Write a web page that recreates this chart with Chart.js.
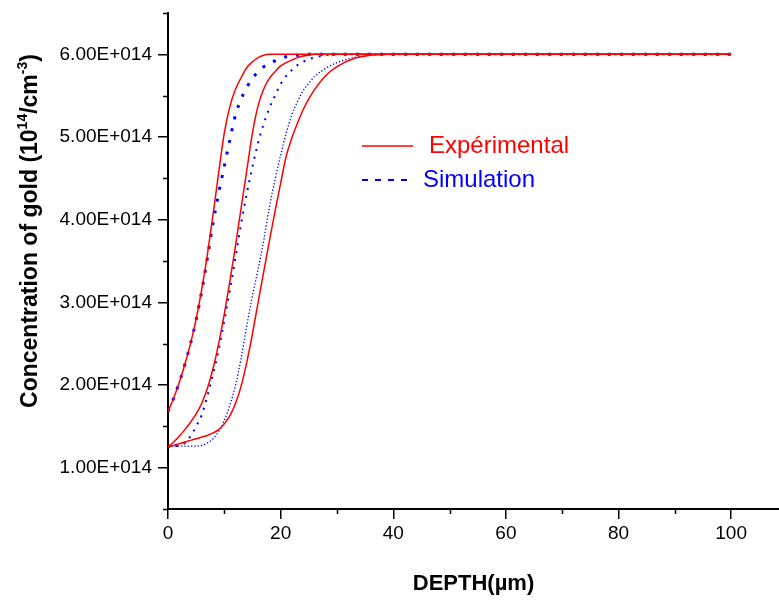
<!DOCTYPE html>
<html>
<head>
<meta charset="utf-8">
<script src="https://cdn.jsdelivr.net/npm/chart.js@4.4.0/dist/chart.umd.min.js"></script>
<style>
  html, body { margin: 0; padding: 0; background: #fff; }
  #wrap { width: 779px; height: 601px; }
</style>
</head>
<body>
<div id="wrap"><canvas id="goldChart" width="779" height="601"></canvas></div>
<script>
// depth in µm, concentration in units of 1E+014 cm^-3
const depth = [0, 1, 2, 3, 4, 5, 6, 7, 8, 9, 10, 11, 12, 13, 14, 15, 16, 17, 18, 19,
  20, 21, 22, 23, 24, 25, 26, 28, 30, 33, 36, 40, 100];

const exp1 = [1.68, 1.84, 2.03, 2.25, 2.50, 2.80, 3.16, 3.58, 4.06, 4.57, 5.05, 5.37, 5.58, 5.72, 5.84, 5.91, 5.96, 5.99, 6.00, 6.00,
  6.00, 6.00, 6.00, 6.00, 6.00, 6.00, 6.00, 6.00, 6.00, 6.00, 6.00, 6.00, 6.00];
const exp2 = [1.25, 1.31, 1.38, 1.46, 1.55, 1.65, 1.78, 1.96, 2.20, 2.50, 2.86, 3.26, 3.69, 4.15, 4.60, 5.05, 5.38, 5.58, 5.71, 5.79,
  5.86, 5.90, 5.93, 5.96, 5.98, 5.99, 6.00, 6.00, 6.00, 6.00, 6.00, 6.00, 6.00];
const exp3 = [1.25, 1.27, 1.29, 1.31, 1.33, 1.35, 1.37, 1.39, 1.42, 1.46, 1.53, 1.63, 1.78, 1.99, 2.28, 2.62, 3.00, 3.37, 3.74, 4.10,
  4.44, 4.77, 4.99, 5.17, 5.33, 5.46, 5.57, 5.74, 5.85, 5.95, 5.99, 6.00, 6.00];

const sim1 = [1.68, 1.84, 2.03, 2.25, 2.50, 2.79, 3.14, 3.54, 3.96, 4.32, 4.65, 4.97, 5.27, 5.46, 5.60, 5.71, 5.79, 5.85, 5.89, 5.92,
  5.95, 5.97, 5.98, 5.99, 5.99, 6.00, 6.00, 6.00, 6.00, 6.00, 6.00, 6.00, 6.00];
const sim2 = [1.25, 1.26, 1.27, 1.30, 1.38, 1.50, 1.64, 1.87, 2.13, 2.43, 2.78, 3.15, 3.55, 3.96, 4.32, 4.64, 4.93, 5.16, 5.35, 5.50,
  5.64, 5.74, 5.81, 5.87, 5.91, 5.94, 5.96, 5.99, 6.00, 6.00, 6.00, 6.00, 6.00];
const sim3 = [1.25, 1.26, 1.26, 1.26, 1.26, 1.26, 1.27, 1.30, 1.35, 1.44, 1.57, 1.76, 2.00, 2.33, 2.72, 3.08, 3.40, 3.75, 4.15, 4.48,
  4.78, 5.05, 5.27, 5.43, 5.56, 5.65, 5.73, 5.83, 5.90, 5.96, 5.99, 6.00, 6.00];

const legendLabels = ['Expérimental', 'Simulation'];
const xTitle = 'DEPTH(µm)';
const yTitleParts = [['Concentration of gold (10', false], ['14', true], ['/cm', false], ['-3', true], [')', false]];

const FONT = "'Liberation Sans', Arial, sans-serif";
Chart.defaults.font.family = FONT;
Chart.defaults.color = '#000';

const pts = arr => depth.map((d, i) => ({ x: d, y: arr[i] }));

function isMajor(v, step) {
  return Math.abs(v / step - Math.round(v / step)) < 1e-6;
}

// minor ticks, legend and rotated y title with superscripts
const decorations = {
  id: 'decorations',
  afterDraw(chart) {
    const { ctx, scales: { x, y }, chartArea } = chart;
    ctx.save();
    ctx.strokeStyle = '#000';
    ctx.lineWidth = 1.5;
    x.ticks.forEach(t => {
      if (isMajor(t.value, 20)) return;
      const px = Math.round(x.getPixelForValue(t.value)) + 0.5;
      ctx.beginPath(); ctx.moveTo(px, chartArea.bottom); ctx.lineTo(px, chartArea.bottom + 5); ctx.stroke();
    });
    y.ticks.forEach(t => {
      if (isMajor(t.value, 1)) return;
      const py = Math.round(y.getPixelForValue(t.value)) + 0.5;
      ctx.beginPath(); ctx.moveTo(chartArea.left - 5, py); ctx.lineTo(chartArea.left, py); ctx.stroke();
    });

    // legend
    const lx = chartArea.left + 194;
    const ly = chartArea.top + 133;
    ctx.lineWidth = 1.5;
    ctx.strokeStyle = '#ff0000';
    ctx.beginPath(); ctx.moveTo(lx, ly); ctx.lineTo(lx + 51, ly); ctx.stroke();
    ctx.lineWidth = 2;
    ctx.strokeStyle = '#0000ff';
    ctx.setLineDash([6, 7]);
    ctx.beginPath(); ctx.moveTo(lx, ly + 34); ctx.lineTo(lx + 51, ly + 34); ctx.stroke();
    ctx.setLineDash([]);
    ctx.font = '24px ' + FONT;
    ctx.textBaseline = 'middle';
    ctx.fillStyle = '#ff0000';
    ctx.fillText(legendLabels[0], lx + 67, ly);
    ctx.fillStyle = '#0000ff';
    ctx.fillText(legendLabels[1], lx + 61, ly + 34);

    // y title
    ctx.fillStyle = '#000';
    ctx.translate(31, 231);
    ctx.rotate(-Math.PI / 2);
    const big = 'bold 23px ' + FONT;
    const small = 'bold 14px ' + FONT;
    let total = 0;
    yTitleParts.forEach(([t, sup]) => { ctx.font = sup ? small : big; total += ctx.measureText(t).width; });
    let cx = -total / 2;
    yTitleParts.forEach(([t, sup]) => {
      ctx.font = sup ? small : big;
      ctx.fillText(t, cx, sup ? -8 : 0);
      cx += ctx.measureText(t).width;
    });
    ctx.restore();
  }
};

const majorOnly = step => c => (c.tick && isMajor(c.tick.value, step)) ? '#000' : 'rgba(0,0,0,0)';

new Chart(document.getElementById('goldChart'), {
  type: 'line',
  data: {
    datasets: [
      { data: pts(exp1), borderColor: '#ff0000', borderWidth: 1.5 },
      { data: pts(exp2), borderColor: '#ff0000', borderWidth: 1.5 },
      { data: pts(exp3), borderColor: '#ff0000', borderWidth: 1.5 },
      { data: pts(sim1), borderColor: '#0000ff', borderWidth: 3, borderDash: [3, 9] },
      { data: pts(sim2), borderColor: '#0000ff', borderWidth: 2, borderDash: [2, 6] },
      { data: pts(sim3), borderColor: '#0000ff', borderWidth: 1.3, borderDash: [1.3, 2] }
    ]
  },
  options: {
    responsive: false,
    animation: false,
    devicePixelRatio: 1,
    layout: { padding: { top: 13, right: 0, left: 0, bottom: 0 } },
    elements: {
      point: { radius: 0 },
      line: { cubicInterpolationMode: 'monotone', fill: false }
    },
    plugins: { legend: { display: false }, tooltip: { enabled: false } },
    scales: {
      x: {
        type: 'linear',
        min: 0,
        max: 108.5,
        afterFit: s => { s.height = 92; s.paddingLeft = 0; s.paddingRight = 0; },
        border: { color: '#000', width: 2 },
        grid: { drawOnChartArea: false, tickLength: 10, lineWidth: 1.5, color: majorOnly(20) },
        ticks: {
          stepSize: 10,
          includeBounds: false,
          padding: 3,
          font: { size: 19 },
          color: '#000',
          maxRotation: 0,
          autoSkip: false,
          callback: v => isMajor(v, 20) ? String(v) : ''
        },
        title: { display: true, text: xTitle, font: { size: 22, weight: 'bold' }, padding: { top: 0, bottom: 4 } }
      },
      y: {
        min: 0.5,
        max: 6.5,
        afterFit: s => { s.width = 168; s.paddingTop = 0; s.paddingBottom = 0; },
        border: { color: '#000', width: 2 },
        grid: { drawOnChartArea: false, tickLength: 10, lineWidth: 1.5, color: majorOnly(1) },
        ticks: {
          stepSize: 0.5,
          padding: 6,
          font: { size: 19 },
          color: '#000',
          autoSkip: false,
          callback: v => isMajor(v, 1) ? v.toFixed(2) + 'E+014' : ''
        }
      }
    }
  },
  plugins: [decorations]
});
</script>
</body>
</html>
